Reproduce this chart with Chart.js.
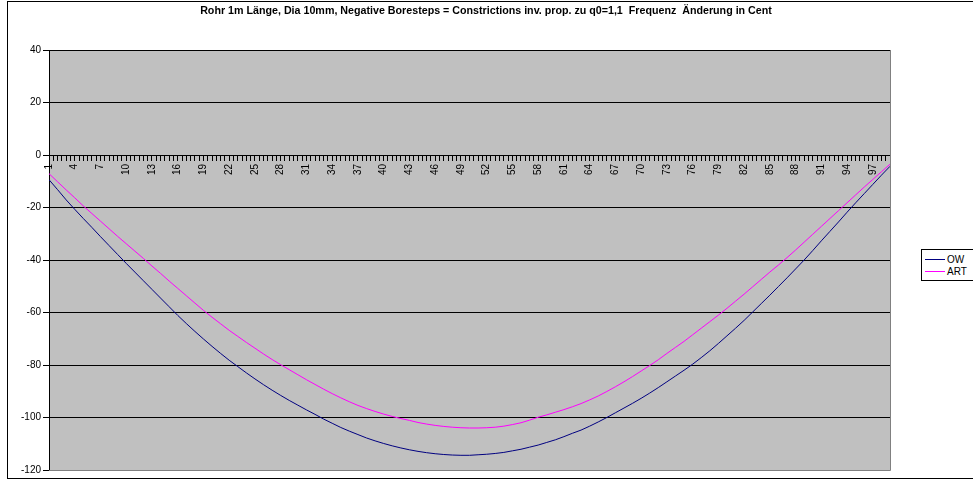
<!DOCTYPE html>
<html>
<head>
<meta charset="utf-8">
<script src="https://cdn.jsdelivr.net/npm/chart.js@4/dist/chart.umd.min.js"></script>
<style>
    html, body { margin: 0; padding: 0; background: #fff; overflow: hidden; }
    #wrap { position: relative; width: 973px; height: 486px; }
    #legend {
        position: absolute; left: 921px; top: 249px; width: 90px;
        border: 1px solid #000; background: #fff; padding: 3px 0 3px 0;
        font: 10px "Liberation Sans", Arial, sans-serif; color: #000;
    }
    .row { display: flex; align-items: center; height: 12px; white-space: nowrap; }
    .swatch { display: inline-block; width: 20px; height: 0; border-top: 1px solid; margin: 0 2px 0 3px; }
</style>
</head>
<body>
<div id="wrap">
    <canvas id="chart" width="973" height="486"></canvas>
    <div id="legend"></div>
</div>
<script>
// Chart data
const chartTitle = 'Rohr 1m Länge, Dia 10mm, Negative Boresteps = Constrictions inv. prop. zu q0=1,1  Frequenz  Änderung in Cent';

const categories = [
    1, 2, 3, 4, 5, 6, 7, 8, 9, 10, 11, 12, 13, 14, 15, 16, 17, 18, 19, 20,
    21, 22, 23, 24, 25, 26, 27, 28, 29, 30, 31, 32, 33, 34, 35, 36, 37, 38, 39, 40,
    41, 42, 43, 44, 45, 46, 47, 48, 49, 50, 51, 52, 53, 54, 55, 56, 57, 58, 59, 60,
    61, 62, 63, 64, 65, 66, 67, 68, 69, 70, 71, 72, 73, 74, 75, 76, 77, 78, 79, 80,
    81, 82, 83, 84, 85, 86, 87, 88, 89, 90, 91, 92, 93, 94, 95, 96, 97, 98, 99
];

const seriesNames = ['OW', 'ART'];
const seriesColors = ['#000080', '#FF00FF'];

const owValues = [
    -9.4, -13.2, -17.1, -20.7, -24.2, -27.6, -31.1, -34.5, -37.9, -41.3,
    -44.6, -47.9, -51.2, -54.5, -57.8, -61.1, -64.2, -67.2, -70.1, -72.9,
    -75.6, -78.2, -80.6, -83.0, -85.3, -87.5, -89.6, -91.6, -93.5, -95.3,
    -97.1, -98.8, -100.6, -102.2, -103.8, -105.2, -106.5, -107.8, -108.9, -109.9,
    -110.8, -111.6, -112.3, -112.9, -113.4, -113.8, -114.1, -114.3, -114.4, -114.4,
    -114.2, -114.0, -113.7, -113.3, -112.7, -112.1, -111.3, -110.5, -109.5, -108.5,
    -107.3, -106.0, -104.8, -103.3, -101.7, -100.0, -98.2, -96.4, -94.6, -92.7,
    -90.7, -88.6, -86.4, -84.2, -82.0, -79.7, -77.2, -74.6, -71.8, -68.9,
    -66.0, -63.0, -59.8, -56.6, -53.4, -50.1, -46.8, -43.4, -40.0, -36.4,
    -32.7, -29.1, -25.5, -21.8, -18.2, -14.7, -11.2, -7.7, -4.3
];

const artValues = [
    -7.1, -10.2, -13.3, -16.3, -19.4, -22.3, -25.2, -28.1, -31.0, -33.8,
    -36.6, -39.4, -42.3, -45.1, -48.0, -50.8, -53.6, -56.4, -59.2, -61.8,
    -64.3, -66.8, -69.1, -71.4, -73.6, -75.8, -77.9, -79.9, -81.8, -83.7,
    -85.6, -87.4, -89.2, -90.9, -92.5, -94.0, -95.4, -96.6, -97.7, -98.7,
    -99.6, -100.4, -101.1, -101.9, -102.5, -103.0, -103.4, -103.7, -103.9, -104.0,
    -104.0, -103.9, -103.7, -103.3, -102.7, -102.0, -101.0, -99.9, -99.0, -98.0,
    -97.0, -95.9, -94.7, -93.3, -91.8, -90.1, -88.3, -86.4, -84.4, -82.3,
    -80.2, -78.0, -75.6, -73.3, -71.0, -68.5, -66.0, -63.5, -61.0, -58.4,
    -55.7, -53.0, -50.2, -47.4, -44.6, -41.9, -39.1, -36.2, -33.2, -30.2,
    -27.2, -24.2, -21.2, -18.2, -15.2, -12.2, -9.3, -6.4, -3.5
];

// Axis settings
const yMin = -120, yMax = 40, yStep = 20;
const xLabelEvery = 3;

const FONT = '"Liberation Sans", Arial, sans-serif';

// Excel-like frame: chart border, title centred on the page, grey plot area, plot border
const excelFrame = {
    id: 'excelFrame',
    beforeDraw(chart) {
        const { ctx, chartArea: a } = chart;
        ctx.save();
        ctx.strokeStyle = '#000';
        ctx.lineWidth = 1;
        ctx.strokeRect(7.5, 1.5, 1000, 477);
        ctx.fillStyle = '#C0C0C0';
        ctx.fillRect(a.left, a.top, a.right - a.left, a.bottom - a.top);
        ctx.fillStyle = '#000';
        ctx.font = 'bold 10.7px ' + FONT;
        ctx.textAlign = 'center';
        ctx.textBaseline = 'middle';
        ctx.fillText(chartTitle, 486, 11);
        ctx.restore();
    },
    afterDatasetsDraw(chart) {
        const { ctx, chartArea: a } = chart;
        ctx.save();
        ctx.strokeStyle = '#808080';
        ctx.lineWidth = 1;
        ctx.beginPath();
        ctx.moveTo(Math.round(a.right) + 0.5, a.top);
        ctx.lineTo(Math.round(a.right) + 0.5, Math.round(a.bottom) + 0.5);
        ctx.lineTo(a.left, Math.round(a.bottom) + 0.5);
        ctx.stroke();
        ctx.restore();
    }
};

function buildDataset(name, color, values) {
    return {
        label: name,
        data: categories.map((c, i) => ({ x: c, y: values[i] })),
        borderColor: color,
        backgroundColor: color,
        borderWidth: 1,
        pointRadius: 0,
        tension: 0,
        fill: false
    };
}

function buildLegend() {
    const legend = document.getElementById('legend');
    seriesNames.forEach((name, i) => {
        const row = document.createElement('div');
        row.className = 'row';
        row.innerHTML = '<span class="swatch" style="border-color:' + seriesColors[i] + '"></span><span>' + name + '</span>';
        legend.appendChild(row);
    });
}

document.addEventListener('DOMContentLoaded', function() {
    buildLegend();

    new Chart(document.getElementById('chart'), {
        type: 'line',
        data: {
            datasets: [
                buildDataset(seriesNames[0], seriesColors[0], owValues),
                buildDataset(seriesNames[1], seriesColors[1], artValues)
            ]
        },
        plugins: [excelFrame],
        options: {
            responsive: false,
            animation: false,
            devicePixelRatio: 1,
            layout: { padding: { left: 0, top: 50, right: 83, bottom: 16 } },
            plugins: {
                legend: { display: false },
                tooltip: { enabled: false },
                title: { display: false }
            },
            scales: {
                x: {
                    type: 'linear',
                    position: { y: 0 },
                    min: categories[0],
                    max: categories[categories.length - 1],
                    grid: {
                        drawOnChartArea: false,
                        drawTicks: true,
                        tickLength: 5,
                        color: '#000'
                    },
                    border: { display: true, color: '#000' },
                    ticks: {
                        stepSize: 0.5,
                        autoSkip: false,
                        minRotation: 90,
                        maxRotation: 90,
                        padding: 4,
                        color: '#000',
                        font: { family: FONT, size: 10 },
                        callback: function(value) {
                            if (Number.isInteger(value) && (value - categories[0]) % xLabelEvery === 0) {
                                return String(value);
                            }
                            return '';
                        }
                    }
                },
                y: {
                    min: yMin,
                    max: yMax,
                    afterFit: function(scale) { scale.width = 49; },
                    grid: {
                        color: function(ctx) { return ctx.tick && ctx.tick.value === yMin ? '#808080' : '#000'; },
                        tickColor: '#000',
                        tickLength: 6
                    },
                    border: { display: true, color: '#000' },
                    ticks: {
                        stepSize: yStep,
                        padding: 2,
                        color: '#000',
                        font: { family: FONT, size: 10 }
                    }
                }
            }
        }
    });
});
</script>
</body>
</html>
